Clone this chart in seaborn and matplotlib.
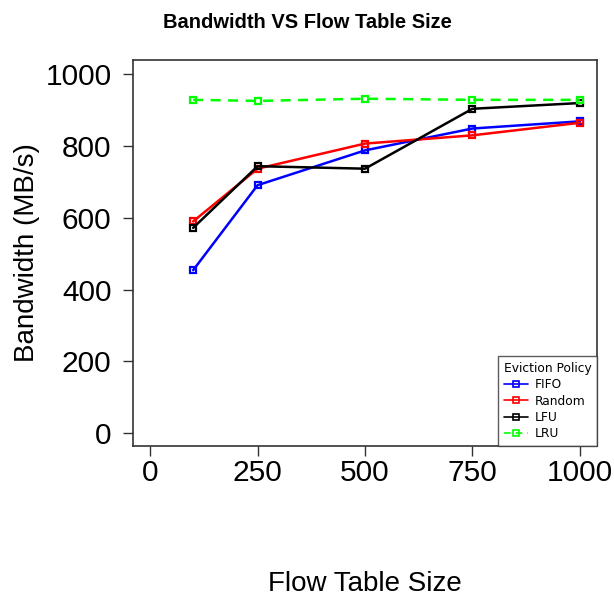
import matplotlib
matplotlib.use("Agg")
import matplotlib.pyplot as plt
import seaborn as sns
import pandas as pd

sizes = [100, 250, 500, 750, 1000]
fifo = [454, 691, 788, 849, 869]
random_ = [590, 737, 807, 830, 865]
lfu = [572, 744, 737, 904, 920]
lru = [929, 926, 932, 929, 929]
policies = ["FIFO", "Random", "LFU", "LRU"]
colors = {"FIFO": "#0000FF", "Random": "#FF0000", "LFU": "#000000", "LRU": "#00FF00"}
x_ticks = [0, 250, 500, 750, 1000]
y_ticks = [0, 200, 400, 600, 800, 1000]

rows = []
for name, vals in zip(policies, [fifo, random_, lfu, lru]):
    for s, v in zip(sizes, vals):
        rows.append({"size": s, "bw": v, "policy": name})
df = pd.DataFrame(rows)

sns.set_style("white")
plt.rcParams["font.family"] = ["Liberation Sans", "DejaVu Sans"]
plt.rcParams["text.color"] = "black"
plt.rcParams["axes.labelcolor"] = "black"
plt.rcParams["xtick.color"] = "black"
plt.rcParams["ytick.color"] = "black"

fig = plt.figure(figsize=(6.14, 6.03), dpi=100)
ax = fig.add_axes([0.2166, 0.2604, 0.7557, 0.6401])

sns.lineplot(data=df, x="size", y="bw", hue="policy", style="policy",
             hue_order=policies, style_order=policies, palette=colors,
             dashes={"FIFO": "", "Random": "", "LFU": "", "LRU": (4, 3)},
             markers={p: "s" for p in policies}, markersize=5, linewidth=1.8,
             legend=False, ax=ax)

for line in ax.lines:
    c = line.get_color()
    line.set_markerfacecolor("none")
    line.set_markeredgecolor(c)
    line.set_markeredgewidth(1.6)

ax.set_xlim(-40, 1040)
ax.set_ylim(-36, 1040)
ax.set_xticks(x_ticks)
ax.set_yticks(y_ticks)
ax.tick_params(axis="both", which="major", direction="out", length=7.5, width=1,
               color="#333333", labelsize=21.5, bottom=True, left=True)
ax.tick_params(axis="x", pad=2)
ax.tick_params(axis="y", pad=8)
for sp in ax.spines.values():
    sp.set_visible(True)
    sp.set_color("#333333")
    sp.set_linewidth(1.2)

ax.set_xlabel("Flow Table Size", fontsize=20, labelpad=60)
ax.set_ylabel("Bandwidth (MB/s)", fontsize=20, labelpad=4)
fig.text(0.5, 1 - 22 / 603, "Bandwidth VS Flow Table Size", fontsize=14.5,
         fontweight="bold", ha="center", va="center")

leg_font = {"family": "DejaVu Sans", "size": 8.8}
leg = ax.legend(ax.lines, policies, title="Eviction Policy", loc="lower right",
                bbox_to_anchor=(1.0, 0.0), borderaxespad=0, prop=leg_font,
                title_fontproperties=leg_font, numpoints=1, handlelength=2.0,
                frameon=True, fancybox=False, borderpad=0.45, labelspacing=0.28,
                handletextpad=0.55)
leg._legend_box.align = "left"
leg.get_frame().set_edgecolor("#333333")
leg.get_frame().set_linewidth(1.0)
for h in leg.legend_handles:
    h.set_linewidth(1.2)
    h.set_markersize(4.5)
    h.set_markeredgewidth(1.2)

fig.savefig("out.png", dpi=100)
